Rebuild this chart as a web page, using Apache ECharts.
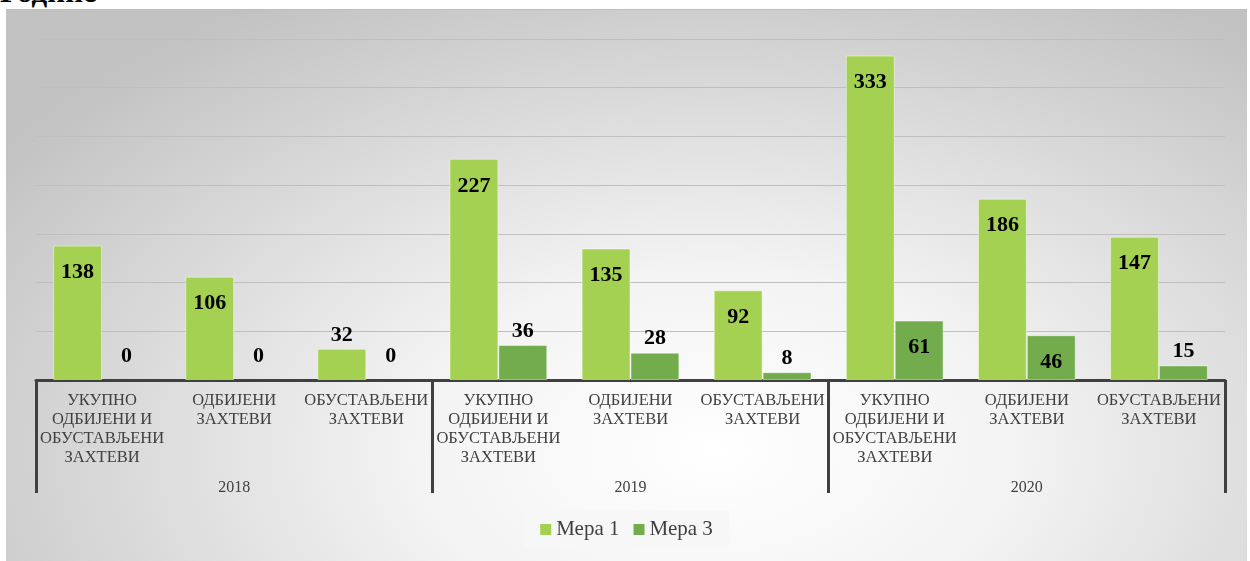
<!DOCTYPE html>
<html>
<head>
<meta charset="utf-8">
<script src="https://cdn.jsdelivr.net/npm/echarts@6/dist/echarts.min.js"></script>
<style>
  html, body { margin: 0; padding: 0; background: #fff; width: 1250px; height: 561px; overflow: hidden; }
  .page-title {
    position: absolute; left: 0; top: -26px;
    font: bold 31px "Liberation Serif", serif; color: #000;
  }
  .chart-box {
    position: absolute; left: 6px; top: 9px; width: 1241px; height: 552px;
    border-top: 1px solid #bdbdbd; box-sizing: border-box;
    background: radial-gradient(ellipse 70% 95% at 57% 80%, #ffffff 0%, #f3f3f3 35%, #c2c2c2 100%);
  }
</style>
</head>
<body>
<div class="page-title">Године</div>
<div id="chart" class="chart-box"></div>
<script>
// categories
var categories = [
  "УКУПНО\nОДБИЈЕНИ И\nОБУСТАВЉЕНИ\nЗАХТЕВИ", "ОДБИЈЕНИ\nЗАХТЕВИ", "ОБУСТАВЉЕНИ\nЗАХТЕВИ",
  "УКУПНО\nОДБИЈЕНИ И\nОБУСТАВЉЕНИ\nЗАХТЕВИ", "ОДБИЈЕНИ\nЗАХТЕВИ", "ОБУСТАВЉЕНИ\nЗАХТЕВИ",
  "УКУПНО\nОДБИЈЕНИ И\nОБУСТАВЉЕНИ\nЗАХТЕВИ", "ОДБИЈЕНИ\nЗАХТЕВИ", "ОБУСТАВЉЕНИ\nЗАХТЕВИ"
];
var years = ["2018", "2019", "2020"];
var seriesNames = ["Мера 1", "Мера 3"];
var mera1 = [138, 106, 32, 227, 135, 92, 333, 186, 147];
var mera3 = [0, 0, 0, 36, 28, 8, 61, 46, 15];

var serif = "Liberation Serif";

// labels go inside the bar when it is tall enough, otherwise above it
function withLabels(values) {
  return values.map(function (v) {
    var inside = v >= 40;
    return {
      value: v,
      itemStyle: { borderWidth: v > 0 ? 1 : 0 },
      label: {
        position: inside ? "insideTop" : "top",
        distance: inside ? 16 : (v === 0 ? 13 : 3)
      }
    };
  });
}

var barLabel = {
  show: true,
  fontFamily: serif,
  fontWeight: "bold",
  fontSize: 22,
  color: "#000"
};

var chart = echarts.init(document.getElementById("chart"));
var option = {
  animation: false,
  color: ["#a5d152", "#72ac4d"],
  grid: { left: 30, right: 22, top: 29, bottom: 181 },
  legend: {
    data: seriesNames,
    left: "center",
    top: 500,
    backgroundColor: "#f7f7f7",
    padding: [9, 16, 8, 16],
    itemGap: 14,
    icon: "rect",
    itemWidth: 11,
    itemHeight: 11,
    textStyle: { fontFamily: serif, fontSize: 21, color: "#404040" }
  },
  xAxis: [
    {
      type: "category",
      data: categories,
      position: "bottom",
      axisLine: { show: true, lineStyle: { color: "#404040", width: 3 } },
      axisTick: { show: false },
      axisLabel: {
        interval: 0,
        margin: 11,
        fontFamily: serif,
        fontSize: 16.5,
        lineHeight: 19,
        color: "#404040"
      }
    },
    {
      type: "category",
      data: years,
      position: "bottom",
      axisLine: { show: false },
      axisTick: { show: true, length: 113, lineStyle: { color: "#404040", width: 3 } },
      axisLabel: {
        margin: 100,
        fontFamily: serif,
        fontSize: 16,
        color: "#404040"
      }
    }
  ],
  yAxis: {
    type: "value",
    min: 0,
    max: 350,
    interval: 50,
    axisLabel: { show: false },
    axisLine: { show: false },
    axisTick: { show: false },
    splitLine: { lineStyle: { color: "#bfbfbf", width: 1 } }
  },
  series: [
    {
      name: seriesNames[0],
      type: "bar",
      xAxisIndex: 0,
      data: withLabels(mera1),
      barGap: "0%",
      barCategoryGap: "26%",
      itemStyle: { borderColor: "rgba(255,255,255,0.45)" },
      label: barLabel
    },
    {
      name: seriesNames[1],
      type: "bar",
      xAxisIndex: 0,
      data: withLabels(mera3),
      barGap: "0%",
      barCategoryGap: "26%",
      itemStyle: { borderColor: "rgba(255,255,255,0.45)" },
      label: barLabel
    }
  ]
};
chart.setOption(option);
</script>
</body>
</html>
